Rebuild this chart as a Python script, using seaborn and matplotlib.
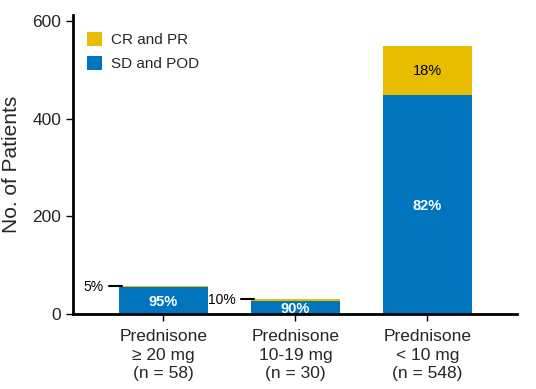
import pandas as pd
import matplotlib.pyplot as plt
import seaborn as sns

# Values
groups = ["Prednisone\n\u2265 20 mg\n(n = 58)", "Prednisone\n10-19 mg\n(n = 30)", "Prednisone\n< 10 mg\n(n = 548)"]
sd_pod = [55, 27, 449]
cr_pr = [3, 3, 99]
sd_pct = ["95%", "90%", "82%"]
cr_pct = ["5%", "10%", "18%"]

BLUE = "#0075BE"
YELLOW = "#E8BC00"

df = pd.DataFrame({"group": groups, "sd": sd_pod, "cr": cr_pr})
df["total"] = df["sd"] + df["cr"]

sns.set_style("white")
plt.rcParams["font.family"] = ["Liberation Sans", "DejaVu Sans"]

fig = plt.figure(figsize=(5.36, 3.89), dpi=100)
ax = fig.add_axes([0.136, 0.193, 0.829, 0.768])

sns.barplot(data=df, x="group", y="total", color=YELLOW, width=0.67,
            saturation=1, linewidth=0, ax=ax, label="CR and PR")
sns.barplot(data=df, x="group", y="sd", color=BLUE, width=0.67,
            saturation=1, linewidth=0, ax=ax, label="SD and POD")

# percentage labels
for i, row in df.iterrows():
    ax.text(i, row["sd"] / 2 - 4, sd_pct[i], ha="center", va="center",
            color="white", fontsize=10.5, fontweight="bold")
    if row["cr"] > 20:
        ax.text(i, row["sd"] + row["cr"] / 2, cr_pct[i], ha="center",
                va="center", color="black", fontsize=10.5)
    else:
        ax.plot([i - 0.41, i - 0.31], [row["total"], row["total"]],
                color="black", lw=1.5, clip_on=False)
        ax.text(i - 0.45, row["total"] - 2, cr_pct[i], ha="right",
                va="center", color="black", fontsize=10)

ax.set_xlim(-0.685, 2.68)
ax.set_ylim(0, 612)
ax.set_yticks([0, 200, 400, 600])
ax.set_xlabel("")
ax.set_ylabel("No. of Patients", fontsize=15, labelpad=8)
ax.tick_params(axis="both", which="both", length=5, width=1, color="black",
               bottom=True, left=True)
ax.tick_params(axis="y", labelsize=12.5)
ax.tick_params(axis="x", labelsize=12.5, pad=6)
for lbl in ax.get_xticklabels():
    lbl.set_linespacing(1.3)

for side in ["top", "right"]:
    ax.spines[side].set_visible(False)
for side in ["left", "bottom"]:
    ax.spines[side].set_color("black")
    ax.spines[side].set_linewidth(2)

ax.legend(loc="upper left", bbox_to_anchor=(0.0, 0.99), frameon=False,
          fontsize=11, handlelength=1.0, handleheight=1.0,
          handletextpad=0.6, labelspacing=0.6)

fig.savefig("out.png", dpi=100)
